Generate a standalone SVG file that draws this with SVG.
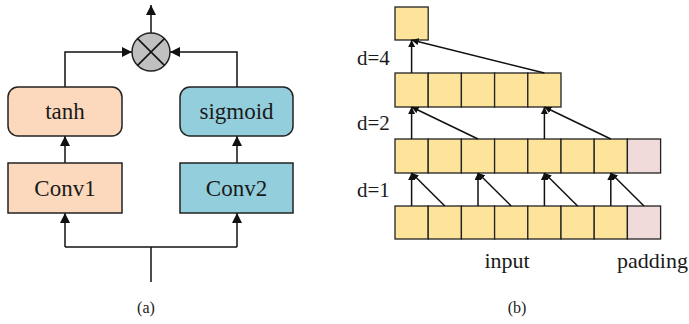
<svg xmlns="http://www.w3.org/2000/svg" width="689" height="324" viewBox="0 0 689 324">
<defs>
<style>
text{font-family:'Liberation Serif','Times New Roman',serif;fill:#1a1a1a}
.box{stroke:#222;stroke-width:1.5}
.ln{stroke:#111;stroke-width:1.5;fill:none}
.cell{fill:#FDE49A;stroke:#222;stroke-width:1.3}
.pad{fill:#F1DADA;stroke:#222;stroke-width:1.3}
</style>
<marker id="ah" viewBox="0 0 10 10" refX="10" refY="5" markerWidth="7" markerHeight="7" markerUnits="userSpaceOnUse" orient="auto"><path d="M0,0 L10,5 L0,10 z" fill="#111"/></marker>
<marker id="ahb" viewBox="0 0 10 10" refX="10" refY="5" markerWidth="10" markerHeight="10" markerUnits="userSpaceOnUse" orient="auto"><path d="M0,0 L10,5 L0,10 z" fill="#111"/></marker>
</defs>
<rect width="689" height="324" fill="#fff"/>

<!-- Panel (a) -->
<g id="connectors-a">
<path class="ln" d="M151,282 V247"/>
<path class="ln" d="M65,247 H237"/>
<path class="ln" d="M65,247 V213" marker-end="url(#ahb)"/>
<path class="ln" d="M237,247 V213" marker-end="url(#ahb)"/>
<path class="ln" d="M65,163 V136" marker-end="url(#ahb)"/>
<path class="ln" d="M237,163 V136" marker-end="url(#ahb)"/>
<path class="ln" d="M65,87 V52 H132" marker-end="url(#ahb)"/>
<path class="ln" d="M237,87 V52 H170" marker-end="url(#ahb)"/>
<path class="ln" d="M151,33 V5" marker-end="url(#ahb)"/>
</g>
<g id="mult">
<circle cx="151" cy="52" r="19" fill="#C0C0C0" stroke="#222" stroke-width="1.5"/>
<path class="ln" d="M137.6,38.6 L164.4,65.4 M164.4,38.6 L137.6,65.4"/>
</g>
<g id="tanh">
<rect class="box" x="8" y="87" width="114" height="49" rx="10" fill="#FCD9BD"/>
<text x="65" y="119" font-family="Liberation Serif, serif" font-size="23" text-anchor="middle">tanh</text>
</g>
<g id="sigmoid">
<rect class="box" x="180" y="87" width="113" height="49" rx="10" fill="#92CEDC"/>
<text x="236.5" y="119" font-family="Liberation Serif, serif" font-size="23" text-anchor="middle">sigmoid</text>
</g>
<g id="conv1">
<rect class="box" x="8" y="163" width="114" height="50" fill="#FCD9BD"/>
<text x="65" y="196" font-family="Liberation Serif, serif" font-size="23" text-anchor="middle">Conv1</text>
</g>
<g id="conv2">
<rect class="box" x="180" y="163" width="113" height="50" fill="#92CEDC"/>
<text x="236.5" y="196" font-family="Liberation Serif, serif" font-size="23" text-anchor="middle">Conv2</text>
</g>
<text x="146" y="313" font-family="Liberation Serif, serif" font-size="16" text-anchor="middle">(a)</text>

<!-- Panel (b) -->
<g id="top-cell">
<rect class="cell" x="395" y="7" width="33.2" height="33"/>
</g>
<g id="row-d4">
<rect class="cell" x="395" y="73" width="33.2" height="34"/>
<rect class="cell" x="428.2" y="73" width="33.2" height="34"/>
<rect class="cell" x="461.4" y="73" width="33.2" height="34"/>
<rect class="cell" x="494.6" y="73" width="33.2" height="34"/>
<rect class="cell" x="527.8" y="73" width="33.2" height="34"/>
</g>
<g id="row-d2">
<rect class="cell" x="395" y="139" width="33.2" height="34"/>
<rect class="cell" x="428.2" y="139" width="33.2" height="34"/>
<rect class="cell" x="461.4" y="139" width="33.2" height="34"/>
<rect class="cell" x="494.6" y="139" width="33.2" height="34"/>
<rect class="cell" x="527.8" y="139" width="33.2" height="34"/>
<rect class="cell" x="561" y="139" width="33.2" height="34"/>
<rect class="cell" x="594.2" y="139" width="33.2" height="34"/>
<rect class="pad" x="627.4" y="139" width="33.2" height="34"/>
</g>
<g id="row-input">
<rect class="cell" x="395" y="206" width="33.2" height="33"/>
<rect class="cell" x="428.2" y="206" width="33.2" height="33"/>
<rect class="cell" x="461.4" y="206" width="33.2" height="33"/>
<rect class="cell" x="494.6" y="206" width="33.2" height="33"/>
<rect class="cell" x="527.8" y="206" width="33.2" height="33"/>
<rect class="cell" x="561" y="206" width="33.2" height="33"/>
<rect class="cell" x="594.2" y="206" width="33.2" height="33"/>
<rect class="pad" x="627.4" y="206" width="33.2" height="33"/>
</g>
<g id="connectors-b">
<path class="ln" d="M411.6,206 V173" marker-end="url(#ah)"/>
<path class="ln" d="M444.8,206 L411.6,173" marker-end="url(#ah)"/>
<path class="ln" d="M478,206 V173" marker-end="url(#ah)"/>
<path class="ln" d="M511.2,206 L478,173" marker-end="url(#ah)"/>
<path class="ln" d="M544.4,206 V173" marker-end="url(#ah)"/>
<path class="ln" d="M577.6,206 L544.4,173" marker-end="url(#ah)"/>
<path class="ln" d="M610.8,206 V173" marker-end="url(#ah)"/>
<path class="ln" d="M644,206 L610.8,173" marker-end="url(#ah)"/>
<path class="ln" d="M411.6,139 V107" marker-end="url(#ah)"/>
<path class="ln" d="M478,139 L411.6,107" marker-end="url(#ah)"/>
<path class="ln" d="M544.4,139 V107" marker-end="url(#ah)"/>
<path class="ln" d="M610.8,139 L544.4,107" marker-end="url(#ah)"/>
<path class="ln" d="M411.6,73 V40" marker-end="url(#ah)"/>
<path class="ln" d="M544.4,73 L411.6,40" marker-end="url(#ah)"/>
</g>
<text x="357" y="65" font-family="Liberation Serif, serif" font-size="21">d=4</text>
<text x="357" y="130" font-family="Liberation Serif, serif" font-size="21">d=2</text>
<text x="357" y="197" font-family="Liberation Serif, serif" font-size="21">d=1</text>
<text x="507" y="268" font-family="Liberation Serif, serif" font-size="22" text-anchor="middle">input</text>
<text x="617" y="268" font-family="Liberation Serif, serif" font-size="22">padding</text>
<text x="517" y="313" font-family="Liberation Serif, serif" font-size="16" text-anchor="middle">(b)</text>
</svg>
